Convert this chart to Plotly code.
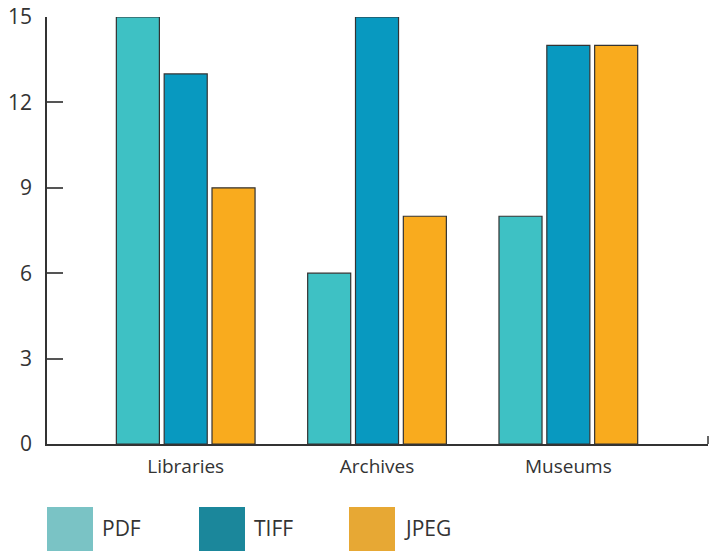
import plotly.graph_objects as go

categories = ["Libraries", "Archives", "Museums"]
pdf_values = [15, 6, 8]
tiff_values = [13, 15, 14]
jpeg_values = [9, 8, 14]
y_ticks = [0, 3, 6, 9, 12, 15]

series_names = ["PDF", "TIFF", "JPEG"]
bar_colors = ["#3ec1c4", "#0899c0", "#f9ab1e"]
legend_colors = ["#7ac3c5", "#1b879b", "#e7a834"]

W, H = 724, 551
ml, mr, mt, mb = 47, 16, 17, 107
pw, ph = W - ml - mr, H - mt - mb

def px_x(p):
    return (p - ml) / pw

def px_y(p):
    return (H - mb - p) / ph

fig = go.Figure()
for name, vals, col in zip(series_names, [pdf_values, tiff_values, jpeg_values], bar_colors):
    fig.add_trace(go.Bar(
        x=categories, y=vals, name=name,
        marker=dict(color=col, line=dict(color="#333333", width=1.2)),
        showlegend=False,
    ))

shapes = []
annotations = []
# legend boxes
legend_x = [47, 199, 349]
for lx, name, col in zip(legend_x, series_names, legend_colors):
    shapes.append(dict(type="rect", xref="paper", yref="paper",
                       x0=px_x(lx), x1=px_x(lx + 46), y0=px_y(507), y1=px_y(552),
                       fillcolor=col, line=dict(width=0), layer="above"))
    annotations.append(dict(xref="paper", yref="paper", x=px_x(lx + 53), y=px_y(528),
                            text=name, showarrow=False, xanchor="left", yanchor="middle",
                            font=dict(size=21, color="#333333")))
# right end tick of x axis
shapes.append(dict(type="line", xref="paper", yref="paper",
                   x0=1, x1=1, y0=0, y1=px_y(436),
                   line=dict(color="#333333", width=1.5)))

fig.update_layout(
    width=W, height=H,
    margin=dict(l=ml, r=mr, t=mt, b=mb, autoexpand=False),
    paper_bgcolor="white", plot_bgcolor="white",
    barmode="group", bargap=0.25, bargroupgap=0.1,
    font=dict(family="Open Sans", color="#333333"),
    shapes=shapes, annotations=annotations,
    xaxis=dict(
        type="category", range=[-0.725, 2.73], automargin=False,
        showline=True, linecolor="#333333", linewidth=1.5,
        ticks="", showgrid=False, zeroline=False,
        tickfont=dict(size=19, color="#333333"),
        ticklabelstandoff=4,
    ),
    yaxis=dict(
        range=[0, 15], tickvals=y_ticks, automargin=False,
        showline=True, linecolor="#333333", linewidth=1.5,
        ticks="inside", ticklen=16, tickwidth=1.5, tickcolor="#555555",
        showgrid=False, zeroline=False,
        tickfont=dict(size=21, color="#333333"),
        ticklabelstandoff=9,
    ),
)

fig.write_html("out.html")
